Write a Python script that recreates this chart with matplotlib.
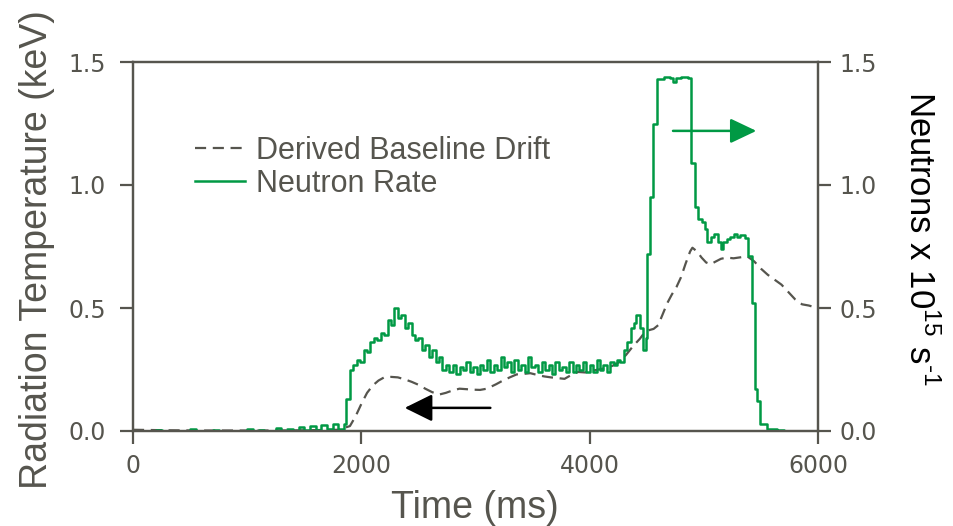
import numpy as np
import matplotlib
matplotlib.use("Agg")
import matplotlib.pyplot as plt
from matplotlib.patches import FancyArrowPatch

GRAY = "#56554e"
GREEN = "#009944"

plt.rcParams["font.family"] = ["Liberation Sans", "DejaVu Sans"]
plt.rcParams["mathtext.fontset"] = "custom"
plt.rcParams["mathtext.rm"] = "Liberation Sans"

# derived baseline drift (keV), left axis
base_t = [0, 300, 600, 900, 1200, 1500, 1800, 1900, 1950, 2000, 2050, 2100, 2150,
          2200, 2260, 2320, 2380, 2440, 2500, 2560, 2620, 2680, 2740, 2800, 2860,
          2920, 2980, 3040, 3100, 3180, 3240, 3300, 3360, 3420, 3480, 3540, 3600,
          3660, 3720, 3780, 3840, 3900, 3960, 4020, 4080, 4140, 4200, 4260, 4320,
          4380, 4440, 4480, 4520, 4560, 4600, 4640, 4680, 4720, 4760, 4800, 4840,
          4880, 4900, 4940, 4980, 5020, 5060, 5100, 5150, 5200, 5260, 5320, 5380,
          5440, 5500, 5560, 5620, 5680, 5740, 5800, 5860, 5920, 5980, 6000]
base_v = [0.005, 0.003, 0.002, 0.002, 0.002, 0.003, 0.005, 0.02, 0.06, 0.11, 0.155,
          0.185, 0.205, 0.218, 0.22, 0.218, 0.21, 0.2, 0.188, 0.172, 0.158, 0.148,
          0.155, 0.165, 0.172, 0.17, 0.168, 0.167, 0.172, 0.19, 0.205, 0.218, 0.23,
          0.232, 0.235, 0.228, 0.222, 0.218, 0.215, 0.212, 0.228, 0.24, 0.238, 0.245,
          0.25, 0.256, 0.265, 0.28, 0.31, 0.345, 0.375, 0.40, 0.41, 0.415, 0.43,
          0.475, 0.52, 0.555, 0.585, 0.625, 0.68, 0.73, 0.745, 0.73, 0.705, 0.685,
          0.678, 0.688, 0.7, 0.705, 0.702, 0.706, 0.71, 0.69, 0.66, 0.635, 0.615,
          0.595, 0.565, 0.535, 0.515, 0.51, 0.502, 0.5]

# neutron rate (1e15 /s), right axis
pre_t = np.arange(0, 1851, 50)
pre_v = [0, 0, 0, 0, 0.005, 0, 0, 0, 0, 0, 0.008, 0, 0, 0, 0.006, 0, 0, 0, 0, 0,
         0.01, 0, 0.005, 0, 0, 0.012, 0, 0.008, 0, 0.015, 0.003, 0.02, 0.006, 0.025,
         0.008, 0.03, 0.01, 0.03]
rise_t = np.arange(1870, 2741, 30)
rise_v = [0.13, 0.25, 0.27, 0.29, 0.28, 0.33, 0.32, 0.36, 0.38, 0.37, 0.40, 0.39,
          0.45, 0.43, 0.50, 0.46, 0.47, 0.42, 0.44, 0.39, 0.37, 0.38, 0.33, 0.35,
          0.30, 0.33, 0.28, 0.30, 0.25, 0.27]
flat_t = np.arange(2770, 4181, 30)
flat_v = [0.24, 0.27, 0.23, 0.26, 0.25, 0.28, 0.24, 0.26, 0.23, 0.27, 0.25, 0.29,
          0.24, 0.27, 0.25, 0.30, 0.26, 0.28, 0.24, 0.29, 0.25, 0.27, 0.24, 0.30,
          0.26, 0.27, 0.24, 0.28, 0.25, 0.27, 0.23, 0.28, 0.25, 0.26, 0.24, 0.28,
          0.24, 0.27, 0.25, 0.28, 0.24, 0.27, 0.24, 0.29, 0.25, 0.27, 0.24, 0.28]
peak_t = [4210, 4240, 4270, 4300, 4330, 4360, 4390, 4410, 4440, 4470, 4490, 4500,
          4530, 4555, 4590, 4650, 4700, 4730, 4760, 4800, 4860, 4890, 4920, 4950,
          4980, 5010, 5030, 5060, 5090, 5120, 5150, 5170, 5200, 5230, 5260, 5290,
          5320, 5360, 5390, 5420, 5450, 5470, 5490, 5550, 5640, 5700, 6000]
peak_v = [0.27, 0.29, 0.28, 0.33, 0.36, 0.42, 0.44, 0.47, 0.42, 0.33, 0.38, 0.72,
          0.95, 1.25, 1.43, 1.44, 1.435, 1.42, 1.435, 1.44, 1.435, 1.09, 0.91, 0.86,
          0.85, 0.82, 0.77, 0.79, 0.80, 0.77, 0.74, 0.77, 0.78, 0.79, 0.80, 0.79,
          0.795, 0.785, 0.71, 0.52, 0.17, 0.12, 0.03, 0.01, 0.003, 0.002, 0.002]

neut_t = np.concatenate([pre_t, rise_t, flat_t, peak_t])
neut_v = np.concatenate([pre_v, rise_v, flat_v, peak_v])

xticks = [0, 2000, 4000, 6000]
yticks = [0.0, 0.5, 1.0, 1.5]

fig = plt.figure(figsize=(9.54, 5.26), dpi=100)
ax = fig.add_axes([133 / 954, 95 / 526, 685 / 954, 369 / 526])
ax2 = ax.twinx()

ax.plot(base_t, base_v, color=GRAY, lw=1.6, dashes=(5, 3),
        label="Derived Baseline Drift")
ax2.plot(neut_t, neut_v, color=GREEN, lw=1.8, drawstyle="steps-post")
ax.plot([], [], color=GREEN, lw=1.8, label="Neutron Rate")

for a in (ax, ax2):
    a.set_xlim(0, 6000)
    a.set_ylim(0, 1.5)
    a.set_yticks(yticks)
    a.set_yticklabels(["%.1f" % v for v in yticks], family="DejaVu Sans")
    for s in a.spines.values():
        s.set_color(GRAY)
        s.set_linewidth(1.6)
    a.tick_params(direction="out", length=9.5, width=1.6, color=GRAY,
                  labelcolor=GRAY, labelsize=17)
ax.set_xticks(xticks)
ax.set_xticklabels([str(v) for v in xticks], family="DejaVu Sans")
ax.tick_params(axis="x", pad=7)
ax.tick_params(axis="y", pad=10)
ax2.tick_params(axis="y", pad=6)

leg = ax.legend(loc="upper left", bbox_to_anchor=(0.09, 0.80), frameon=False,
                fontsize=22, handlelength=1.65, handletextpad=0.35,
                labelspacing=0.1, borderpad=0, borderaxespad=0)
for t in leg.get_texts():
    t.set_color(GRAY)

ax.add_patch(FancyArrowPatch((3130, 0.094), (2380, 0.094), color="black",
                             arrowstyle="-|>,head_length=0.85,head_width=0.42",
                             mutation_scale=20, lw=1.8, shrinkA=0, shrinkB=0))
ax2.add_patch(FancyArrowPatch((4730, 1.22), (5460, 1.22), color=GREEN,
                              arrowstyle="-|>,head_length=0.8,head_width=0.38",
                              mutation_scale=20, lw=1.8, shrinkA=0, shrinkB=0))

fig.text(37 / 954, 1 - 250 / 526, "Radiation Temperature (keV)", rotation=90,
         ha="center", va="center", fontsize=27, color=GRAY)
fig.text(920 / 954, 1 - 238 / 526,
         "Neutrons x 10$^{\\mathregular{15}}$ s$^{\\mathregular{\u20101}}$",
         rotation=270, ha="center", va="center", fontsize=25, color="black")
fig.text(475 / 954, 1 - 508 / 526, "Time (ms)", ha="center", va="center",
         fontsize=27, color=GRAY)

fig.savefig("out.png", dpi=100)
